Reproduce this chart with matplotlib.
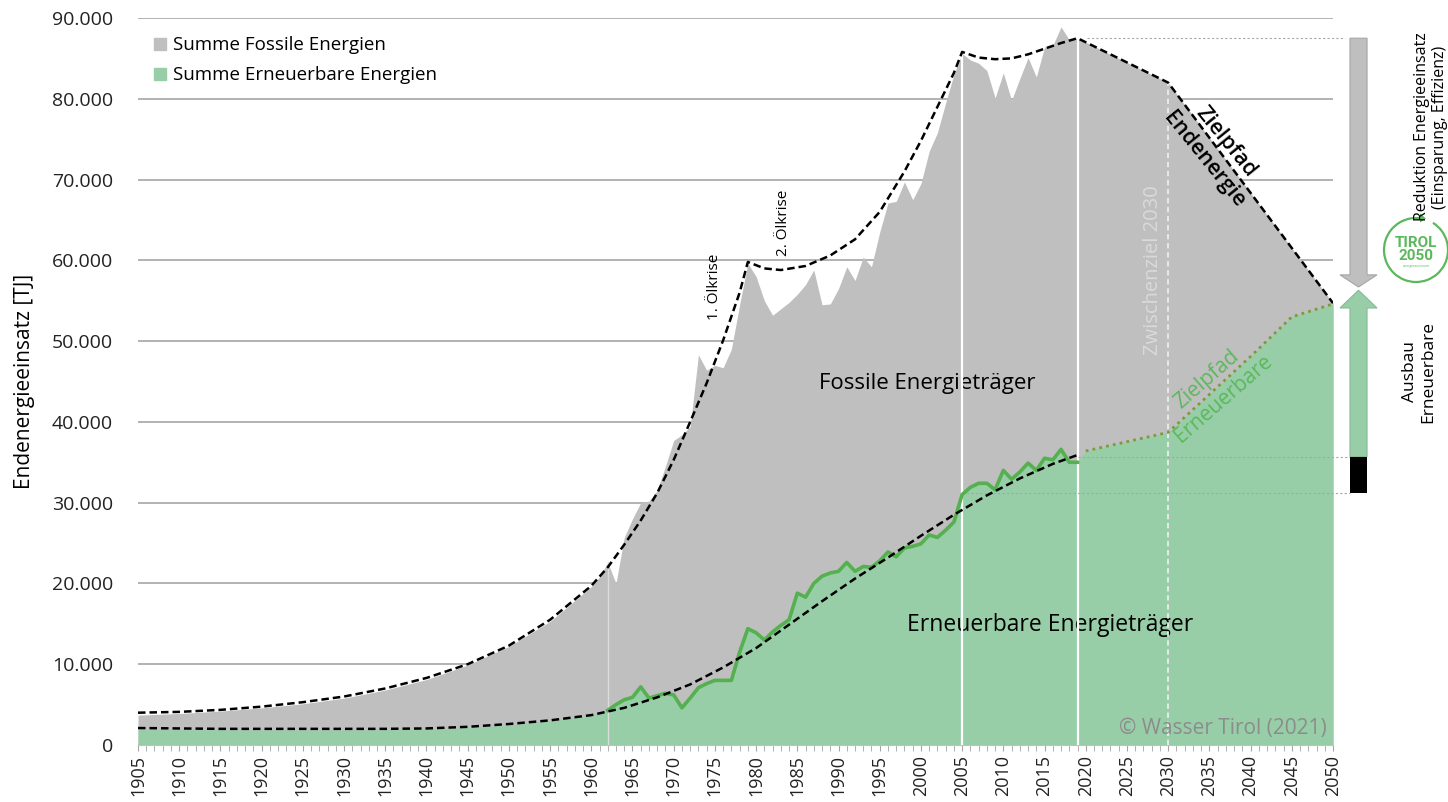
import matplotlib
matplotlib.use('Agg')
import matplotlib.pyplot as plt
from matplotlib.lines import Line2D
from matplotlib.patches import Polygon, Rectangle, Arc
from matplotlib.ticker import MultipleLocator, FuncFormatter

plt.rcParams['font.family'] = ['Open Sans', 'DejaVu Sans']

# --- data (TJ) ---
early_years = [1905, 1910, 1915, 1920, 1925, 1930, 1935, 1940, 1945, 1950, 1955, 1960, 1961]
tot_early = [3700, 3900, 4200, 4600, 5100, 5800, 6800, 8100, 9900, 12200, 15300, 19600, 20800]
ren_early = [1900, 1900, 1900, 1850, 1850, 1850, 1900, 1950, 2150, 2500, 3000, 3700, 4000]

hist_years = list(range(1962, 2020))
tot_hist = [22600, 20000, 25700, 28000, 30000, 30200, 31500, 34500,
            37700, 38400, 39400, 48300, 46400, 47000, 46700, 49000, 54500, 59600,
            58000, 55000, 53200, 54000, 54800, 55800, 57000, 58800, 54500, 54600,
            56500, 59200, 57500, 60400, 59200, 63500, 67100, 67300, 69700, 67500,
            69500, 73500, 75800, 79500, 83000, 85600, 84800, 84400, 83500, 80100,
            83200, 79800, 82500, 85100, 82700, 86400, 86600, 88900, 87300, 87500]
ren_hist = [4300, 5000, 5600, 5900, 7200, 5800, 6100, 6400,
            6200, 4600, 5800, 7100, 7600, 8000, 8000, 8000, 11500, 14400,
            13900, 13000, 14000, 14800, 15500, 18800, 18300, 20000, 20900, 21300,
            21500, 22600, 21500, 22100, 22000, 22800, 23900, 23300, 24400, 24600,
            24900, 26000, 25700, 26600, 27600, 31000, 31900, 32400, 32400, 31600,
            34000, 32900, 33800, 34900, 34000, 35500, 35300, 36600, 35000, 35000]

# target paths 2050
tot_target_years = [2020, 2030, 2050]
tot_target = [87000, 82000, 54700]
ren_target_years = [2020, 2030, 2035, 2040, 2045, 2050]
ren_target = [36400, 38700, 43400, 48100, 53000, 54600]

# trend curves (dashed)
trend_up_years = [1905, 1910, 1915, 1920, 1925, 1930, 1935, 1940, 1945, 1950, 1955, 1960,
                  1962, 1964, 1966, 1968, 1970, 1972, 1974, 1976, 1978, 1979,
                  1981, 1983, 1986, 1989, 1992, 1995, 1998, 2000, 2002, 2004, 2005,
                  2007, 2009, 2011, 2013, 2015, 2017, 2019, 2030, 2050]
trend_up = [4000, 4100, 4350, 4750, 5300, 6000, 7000, 8300, 10000, 12300, 15500, 19700,
            22000, 24800, 27800, 31200, 35300, 40000, 44800, 50100, 56000, 59800,
            59000, 58800, 59300, 60600, 62600, 66000, 71000, 74800, 79000, 83200, 85800,
            85100, 84900, 85000, 85500, 86200, 86900, 87500, 82000, 54700]
trend_low_years = [1905, 1910, 1915, 1920, 1925, 1930, 1935, 1940, 1945, 1950, 1955, 1960,
                   1964, 1968, 1972, 1976, 1980, 1984, 1988, 1992, 1996, 2000, 2004, 2008,
                   2012, 2016, 2019]
trend_low = [2100, 2050, 2000, 2000, 2000, 2000, 2000, 2050, 2250, 2600, 3050, 3700,
             4600, 5900, 7500, 9600, 12000, 14900, 17800, 20600, 23200, 25900, 28500, 30900,
             33000, 34800, 35900]

ren_2005_mark = 31200
ren_2019_mark = 35700

gray = '#bfbfbf'
green_fill = '#97cea8'
green_line = '#55b04f'
green_text = '#5cb85c'

fig = plt.figure(figsize=(14.48, 8.02), dpi=100)
ax = fig.add_axes([138/1448, 57/802, 1195/1448, 727/802])

yrs_tot = early_years + hist_years + tot_target_years
vals_tot = tot_early + tot_hist + tot_target
yrs_ren = early_years + hist_years + ren_target_years
vals_ren = ren_early + ren_hist + ren_target

ax.fill_between(yrs_tot, 0, vals_tot, color=gray, lw=0, zorder=2)
ax.fill_between(yrs_ren, 0, vals_ren, color=green_fill, lw=0, zorder=3)

# vertical markers
t = dict(zip(hist_years, tot_hist))
ax.plot([1962, 1962], [0, t[1962]], color='#dcdcdc', lw=1, zorder=4)
ax.plot([2005, 2005], [0, t[2005]], color='white', lw=1.6, zorder=4)
ax.plot([2019, 2019], [0, t[2019]], color='white', lw=1.6, zorder=4)
ax.plot([2030, 2030], [0, tot_target[1]], color='#ececec', lw=1.3, ls=(0, (3, 2)), zorder=4)

# helper dotted lines towards the right
hl = dict(color='#a6a6a6', lw=0.8, ls=(0, (2, 2)), clip_on=False, zorder=4)
ax.plot([2020.2, 2051.5], [t[2019]] * 2, **hl)
ax.plot([2005, 2052.1], [ren_2005_mark] * 2, **hl)
ax.plot([2019, 2052.1], [ren_2019_mark] * 2, **hl)

ax.plot(hist_years, ren_hist, color=green_line, lw=2.6, zorder=5)
ax.plot(ren_target_years, ren_target, color='#7d9a3c', lw=2, ls=(0, (1, 1.5)), zorder=5)

dash = dict(color='black', lw=1.8, ls=(0, (3, 1.6)), zorder=6)
ax.plot(trend_up_years, trend_up, **dash)
ax.plot(trend_low_years, trend_low, **dash)

# text labels
ax.text(2000.8, 44700, 'Fossile Energieträger', ha='center', va='center', fontsize=16)
ax.text(2015.7, 14850, 'Erneuerbare Energieträger', ha='center', va='center', fontsize=16.5)
ax.text(1975.0, 56700, '1. Ölkrise', rotation=90, ha='center', va='center', fontsize=11)
ax.text(1983.3, 64700, '2. Ölkrise', rotation=90, ha='center', va='center', fontsize=11)
ax.text(2028.2, 58800, 'Zwischenziel 2030', rotation=90, ha='center', va='center',
        fontsize=14.5, color='#dadada', zorder=5)
ax.text(2035.65, 73550, 'Zielpfad\nEndenergie', rotation=-51, rotation_mode='anchor',
        ha='center', va='center', fontsize=15.5, fontweight='semibold', linespacing=1.45,
        zorder=7)
ax.text(2035.7, 44050, 'Zielpfad\nErneuerbare', rotation=41, rotation_mode='anchor',
        ha='center', va='center', fontsize=15, color=green_text, linespacing=1.3, zorder=7)
ax.text(2049.3, 2100, '© Wasser Tirol (2021)', ha='right', va='center',
        fontsize=15, color='#8c8c8c', zorder=7)

# arrows on the right side
cx0, cx1, hx0, hx1 = 2052.06, 2054.13, 2050.85, 2055.34
mid = (cx0 + cx1) / 2
g_base, g_tip = 58200, 56700
ax.add_patch(Polygon([(cx0, t[2019]), (cx1, t[2019]), (cx1, g_base), (hx1, g_base),
                      (mid, g_tip), (hx0, g_base), (cx0, g_base)],
                     closed=True, fc=gray, ec='#a6a6a6', lw=0.8, clip_on=False, zorder=6))
r_base, r_tip = 54100, 56300
ax.add_patch(Polygon([(cx0, ren_2019_mark), (cx1, ren_2019_mark), (cx1, r_base), (hx1, r_base),
                      (mid, r_tip), (hx0, r_base), (cx0, r_base)],
                     closed=True, fc=green_fill, ec='#86bb95', lw=0.8, clip_on=False, zorder=6))
ax.add_patch(Rectangle((cx0, ren_2005_mark), cx1 - cx0, ren_2019_mark - ren_2005_mark,
                       fc='black', ec='none', clip_on=False, zorder=6))

fig.text(1431/1448, 1 - 127/802, 'Reduktion Energieeinsatz\n(Einsparung, Effizienz)',
         rotation=90, ha='center', va='center', fontsize=11.5, multialignment='center')
fig.text(1419/1448, 1 - 372/802, 'Ausbau\nErneuerbare', rotation=90, ha='center',
         va='center', fontsize=12.5, multialignment='center')

# logo
lax = fig.add_axes([(1416 - 36)/1448, (802 - 250 - 36)/802, 72/1448, 72/802])
lax.set_xlim(-36, 36)
lax.set_ylim(-36, 36)
lax.axis('off')
lax.add_patch(Arc((0, 0), 64, 64, theta1=78, theta2=418, color=green_text, lw=1.6))
lax.add_patch(Polygon([(4, 36.5), (4, 27.5), (10, 31.5)], closed=True, fc=green_text,
                      ec='none', clip_on=False))
lax.text(0, 7, 'TIROL', ha='center', va='center', fontsize=11, fontweight='bold',
         color=green_text, family='Roboto')
lax.text(0, -6, '2050', ha='center', va='center', fontsize=11, fontweight='bold',
         color=green_text, family='Roboto')
lax.text(0, -16, 'energieautonom', ha='center', va='center', fontsize=2.5, color=green_text)

# axes styling
ax.set_xlim(1905, 2050)
ax.set_ylim(0, 90000)
ax.set_xticks(range(1905, 2051, 5))
ax.xaxis.set_minor_locator(MultipleLocator(1))
ax.tick_params(axis='x', which='both', length=4, color='#a6a6a6', pad=3,
               labelrotation=90, labelsize=13, labelcolor='#222222')
ax.set_yticks(range(0, 90001, 10000))
ax.yaxis.set_major_formatter(FuncFormatter(lambda v, p: f'{v:,.0f}'.replace(',', '.')))
ax.tick_params(axis='y', length=0, pad=18, labelsize=14, labelcolor='#222222')
ax.yaxis.grid(True, color='#a6a6a6', lw=1.2)
ax.set_axisbelow(True)
for s in ['left', 'right', 'top']:
    ax.spines[s].set_visible(False)
ax.spines['bottom'].set_color('#c8c8c8')
ax.set_ylabel('Endenergieeinsatz [TJ]', fontsize=15, labelpad=12)

handles = [Line2D([], [], marker='s', ls='none', color=gray, markersize=9),
           Line2D([], [], marker='s', ls='none', color=green_fill, markersize=9)]
ax.legend(handles, ['Summe Fossile Energien', 'Summe Erneuerbare Energien'],
          loc='upper left', bbox_to_anchor=(0.012, 0.975), frameon=False, fontsize=13.5,
          handlelength=0.8, handletextpad=0.3, labelspacing=0.65,
          borderpad=0, borderaxespad=0)

fig.savefig('out.png', dpi=100)
